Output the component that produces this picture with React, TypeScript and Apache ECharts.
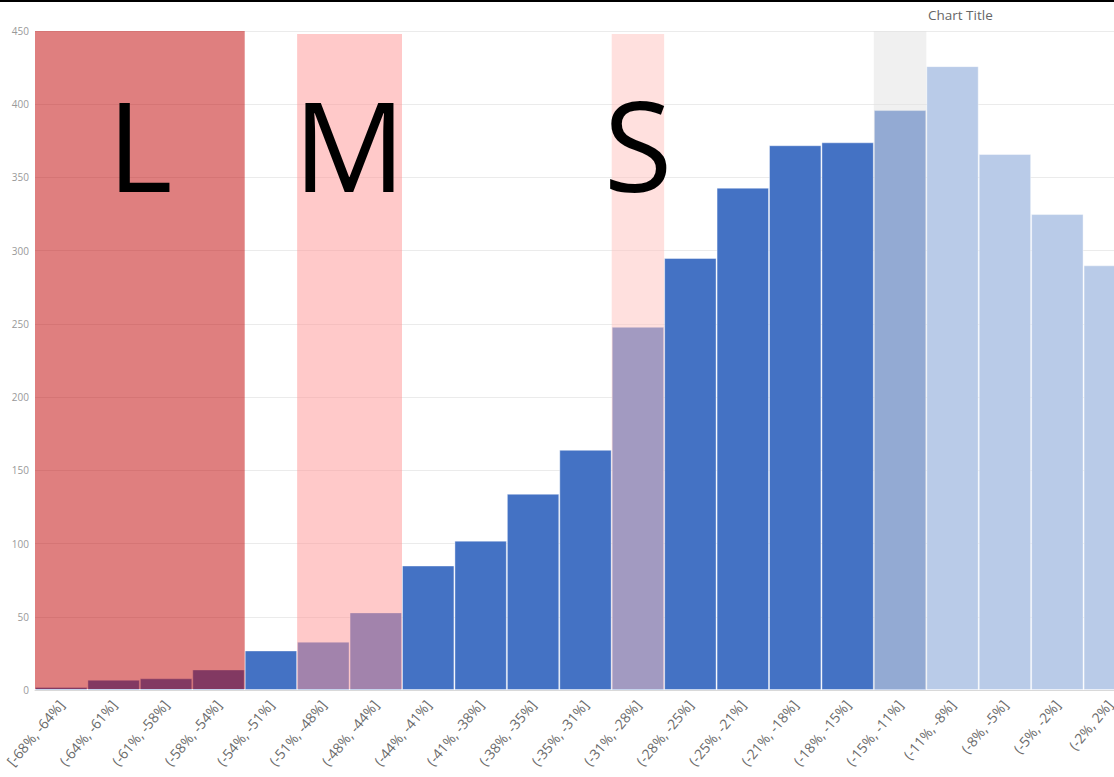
import React, { useEffect, useRef } from "react";
import * as echarts from "echarts";

const categories = [
  "[-68%, -64%]", "(-64%, -61%]", "(-61%, -58%]", "(-58%, -54%]", "(-54%, -51%]",
  "(-51%, -48%]", "(-48%, -44%]", "(-44%, -41%]", "(-41%, -38%]", "(-38%, -35%]",
  "(-35%, -31%]", "(-31%, -28%]", "(-28%, -25%]", "(-25%, -21%]", "(-21%, -18%]",
  "(-18%, -15%]", "(-15%, -11%]", "(-11%, -8%]", "(-8%, -5%]", "(-5%, -2%]", "(-2%, 2%]",
];
const counts = [2, 7, 8, 14, 27, 33, 53, 85, 102, 134, 164, 248, 295, 343, 372, 374, 396, 426, 366, 325, 290];
// categories drawn in the light shade
const lightCategories = ["(-11%, -8%]", "(-8%, -5%]", "(-5%, -2%]", "(-2%, 2%]"];
// highlight bands (first and last category index covered)
const zoneNames = ["L", "M", "S", "G"];
const zoneLetters = ["L", "M", "S", ""];
const zoneFrom = [0, 5, 11, 16];
const zoneTo = [3, 6, 11, 16];
const zoneTop = [450, 448, 448, 450];
const yTicks = [0, 50, 100, 150, 200, 250, 300, 350, 400, 450];

const zoneColors: Record<string, string> = {
  L: "rgba(192, 0, 0, 0.5)",
  M: "rgba(255, 148, 148, 0.5)",
  S: "rgba(255, 193, 189, 0.5)",
  G: "rgba(225, 225, 225, 0.5)",
};

export default function App() {
  const ref = useRef<HTMLDivElement>(null);
  useEffect(() => {
    const chart = echarts.init(ref.current!, null, { renderer: "svg" });
    const barData = counts.map((v, i) => ({
      value: v,
      itemStyle: { color: lightCategories.includes(categories[i]) ? "#B9CBE8" : "#4472C4" },
    }));
    const zoneData = zoneNames.map((n, i) => [zoneFrom[i], zoneTo[i], zoneTop[i], i]);
    chart.setOption({
      animation: false,
      title: {
        text: "Chart Title",
        left: 923,
        top: 3,
        textStyle: { fontSize: 13.5, fontWeight: "normal", color: "#666666", fontFamily: "Open Sans" },
      },
      grid: { left: 35, right: 0, top: 31, bottom: 87, containLabel: false, outerBoundsMode: "none" },
      xAxis: {
        type: "category",
        data: categories,
        axisLine: { lineStyle: { color: "#D9D9D9" } },
        axisTick: { show: false },
        axisLabel: {
          interval: 0,
          rotate: 50,
          fontSize: 14,
          color: "#6B6B6B",
          fontFamily: "Open Sans",
          margin: 12,
        },
      },
      yAxis: {
        type: "value",
        min: 0,
        max: yTicks[yTicks.length - 1],
        interval: 50,
        axisLabel: { fontSize: 10, color: "#999999", margin: 6, fontFamily: "Open Sans" },
        splitLine: { lineStyle: { color: "#EBEBEB" } },
        axisLine: { show: false },
        axisTick: { show: false },
      },
      series: [
        {
          type: "bar",
          data: barData,
          barCategoryGap: 0,
          itemStyle: { borderColor: "rgba(255,255,255,0.4)", borderWidth: 1 },
        },
        {
          type: "custom",
          data: zoneData,
          encode: { x: [0, 1], y: 2 },
          z: 5,
          clip: false,
          renderItem: (params: any, api: any) => {
            const idx = api.value(3);
            const p0 = api.coord([api.value(0), api.value(2)]);
            const p1 = api.coord([api.value(1), 0]);
            const w = api.size([1, 0])[0];
            const x0 = p0[0] - w / 2;
            const x1 = p1[0] + w / 2;
            return {
              type: "group",
              children: [
                {
                  type: "rect",
                  shape: { x: x0, y: p0[1], width: x1 - x0, height: p1[1] - p0[1] - 1 },
                  style: { fill: zoneColors[zoneNames[idx]] },
                },
                {
                  type: "text",
                  z2: 10,
                  style: {
                    text: zoneLetters[idx],
                    x: (x0 + x1) / 2,
                    y: 143,
                    fontSize: 125,
                    fontFamily: "Open Sans",
                    fill: "#000",
                    align: "center",
                    verticalAlign: "middle",
                  },
                },
              ],
            };
          },
        },
      ],
      graphic: [
        { type: "rect", left: 0, top: 0, shape: { width: 1140, height: 2 }, style: { fill: "#000" } },
      ],
    });
    return () => chart.dispose();
  }, []);
  return (
    <div style={{ position: "absolute", left: 0, top: 0, width: 1114, height: 777, overflow: "hidden", background: "#fff" }}>
      <div ref={ref} style={{ width: 1136, height: 777 }} />
    </div>
  );
}
